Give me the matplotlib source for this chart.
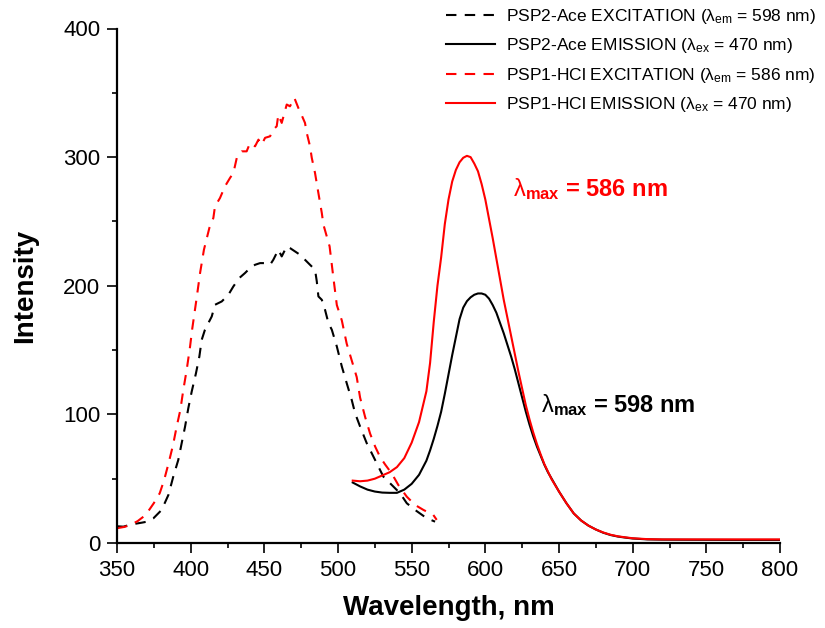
import matplotlib
matplotlib.use("Agg")
import matplotlib.pyplot as plt
from matplotlib.ticker import MultipleLocator

plt.rcParams["font.family"] = ["Liberation Sans", "DejaVu Sans"]
plt.rcParams["mathtext.fontset"] = "custom"
plt.rcParams["mathtext.rm"] = "Liberation Sans"
plt.rcParams["mathtext.bf"] = "Liberation Sans:bold"
plt.rcParams["mathtext.it"] = "Liberation Sans:italic"

# PSP1-HCl excitation (em 586 nm)
red_ex_x = [350, 355, 359, 364, 368, 372, 375, 379, 382, 385, 388, 390.5, 393, 395,
            397.3, 399.6, 401, 404, 406.4, 409, 412.7, 415.4, 416.5, 419.9, 423.3,
            426.7, 429, 431.3, 434.7, 438, 440.3, 443.7, 446, 448.2, 450.5, 453.9,
            456.1, 458.4, 459.5, 461.8, 465.2, 467.4, 470.4, 473.1, 474.2, 477.6,
            478.8, 481, 482.2, 484.4, 486.7, 489, 490.1, 494.3, 497, 499.2, 502.6,
            505.9, 509.3, 512.7, 515, 518.4, 521.8, 525.2, 528.5, 532, 536.5, 541,
            546.7, 552.3, 558, 564.7, 567]
red_ex_y = [11.5, 12.5, 14, 17, 20.5, 26, 31, 38.7, 49, 62, 76, 90.5, 103.5, 119,
            134.6, 152.8, 166, 190, 210, 228, 245, 252.7, 261.7, 268.2, 277.3,
            283.8, 287.7, 299.4, 304.5, 304.5, 311, 308.4, 313.6, 309.7, 315, 316.2,
            321.4, 324, 333, 326.6, 340.9, 339.5, 346, 338.2, 335.6, 326.6,
            318.8, 308.4, 299.4, 287.7, 272, 256.6, 247.5, 230.6, 205, 185, 173,
            155, 142, 129, 113, 98, 85, 75, 67, 61, 54, 45,
            36, 29.6, 25.7, 21.8, 18]

# PSP2-Ace excitation (em 598 nm)
blk_ex_x = [350, 354.3, 360, 366.8, 370, 374.7, 380.3, 384.9, 388.2, 391.6, 393.9,
            396.2, 398.4, 400.7, 403.6, 405.9, 407.5, 409.7, 412, 414.3, 416.5, 421.1,
            425.6, 429, 433, 436.9, 440.3, 443.7, 447.1, 450.5, 453.9, 456.1, 459.5,
            461.8, 465.2, 467.4, 470.8, 474.2, 477.6, 481, 484.4, 485.6, 486.7, 489,
            491.2, 493.5, 495.8, 499.2, 502.6, 505.9, 509.3, 511.6, 515, 519.5, 522.9,
            527.4, 530.8, 535.3, 542.1, 546.7, 552.3, 560.3, 565.9]
blk_ex_y = [13, 12.7, 14.5, 15.8, 16.5, 19.2, 25.7, 37.4, 51.6, 64.6, 77.6,
            90.5, 104.8, 117.7, 132, 145, 158, 165.8, 171, 176.1, 185.2, 187.8,
            193, 199.5, 206, 209.9, 213.8, 216.3, 217.6, 217.6, 216.3, 220.2, 228,
            222.8, 230.6, 229.3, 226.7, 224.1, 220.2, 216.3, 212.5, 203.4, 191.7, 189.1,
            181.3, 171, 165.8, 152.8, 137.2, 124.3, 111.3, 100.9, 90.5, 77.6, 69.8,
            59.4, 51.6, 46.5, 38.7, 30.9, 25.7, 19.2, 16.6]

# emission spectra (ex 470 nm), shared wavelength grid
em_x = [510, 515, 520, 525, 530, 535, 540, 545, 550, 555, 560, 562.5, 565, 567.5,
        570, 572.5, 575, 577.5, 580, 582.5, 585, 587.5, 590, 592.5, 595, 597.5, 600,
        602.5, 605, 607.5, 610, 612.5, 615, 617.5, 620, 622.5, 625, 627.5, 630,
        632.5, 635, 637.5, 640, 642.5, 645, 650, 655, 660, 665, 670, 675, 680, 685,
        690, 695, 700, 710, 720, 740, 770, 800]
blk_em_y = [47, 44, 41.5, 40, 39.2, 39, 39, 41.5, 46, 53, 64, 72, 81, 91,
            102, 116, 131, 146, 160, 174, 183, 188, 191, 193, 194, 194, 193,
            190, 185, 179, 171, 163, 154, 145, 135, 124, 113, 102, 92,
            83, 75, 68, 61, 55, 50, 40, 31, 23, 17.5, 13.5, 10.5, 8, 6.2,
            5, 4.2, 3.5, 2.8, 2.6, 2.5, 2.4, 2.4]
red_em_y = [48.5, 48, 48.5, 50, 52.5, 55, 59, 66, 78, 94, 118, 140, 172, 200,
            222, 248, 267, 281, 290, 296, 299.5, 301, 300, 295, 289, 279, 267,
            252, 237, 221, 205, 189, 175, 161, 147, 133, 120, 107, 96,
            86, 77, 69, 61.5, 55.5, 49.5, 40, 31, 23, 17.5, 13.5, 10.5, 8.2, 6.4,
            5.2, 4.4, 3.7, 3, 2.8, 2.8, 2.8, 2.8]

fig = plt.figure(figsize=(8.25, 6.28), dpi=100)
ax = fig.add_axes([117 / 825, 1 - 543 / 628, 663 / 825, 514.5 / 628])

dash = (5, 4)
ax.plot(blk_ex_x, blk_ex_y, color="black", lw=1.5, dashes=dash,
        label=r"PSP2-Ace EXCITATION ($\mathrm{\lambda}_{\mathrm{em}}$ = 598 nm)")
ax.plot(em_x, blk_em_y, color="black", lw=1.5,
        label=r"PSP2-Ace EMISSION ($\mathrm{\lambda}_{\mathrm{ex}}$ = 470 nm)")
ax.plot(red_ex_x, red_ex_y, color="red", lw=1.5, dashes=dash,
        label=r"PSP1-HCl EXCITATION ($\mathrm{\lambda}_{\mathrm{em}}$ = 586 nm)")
ax.plot(em_x, red_em_y, color="red", lw=1.5,
        label=r"PSP1-HCl EMISSION ($\mathrm{\lambda}_{\mathrm{ex}}$ = 470 nm)")

ax.set_xlim(350, 800)
ax.set_ylim(0, 400)
ax.xaxis.set_major_locator(MultipleLocator(50))
ax.xaxis.set_minor_locator(MultipleLocator(25))
ax.yaxis.set_major_locator(MultipleLocator(100))
ax.yaxis.set_minor_locator(MultipleLocator(50))
ax.spines["top"].set_visible(False)
ax.spines["right"].set_visible(False)
for s in ("left", "bottom"):
    ax.spines[s].set_linewidth(1.6)
ax.tick_params(which="major", direction="out", length=7, width=1.2, labelsize=16, pad=5)
ax.tick_params(which="minor", direction="out", length=3.6, width=1.2)

ax.set_xlabel("Wavelength, nm", fontsize=20, fontweight="bold", labelpad=10)
ax.set_ylabel("Intensity", fontsize=20, fontweight="bold", labelpad=18)

ax.text(619, 270, r"$\mathrm{\lambda}_{\mathbf{max}}$ = 586 nm", color="red",
        fontsize=17, fontweight="bold", ha="left", va="baseline")
ax.text(638, 102, r"$\mathrm{\lambda}_{\mathbf{max}}$ = 598 nm", color="black",
        fontsize=17, fontweight="bold", ha="left", va="baseline")

fig.legend(loc="upper left", bbox_to_anchor=(446 / 825, 1 - 7 / 628), frameon=False,
           fontsize=12.5, handlelength=2.8, handletextpad=0.65, labelspacing=0.6,
           borderpad=0, borderaxespad=0)

fig.savefig("out.png", dpi=100)
